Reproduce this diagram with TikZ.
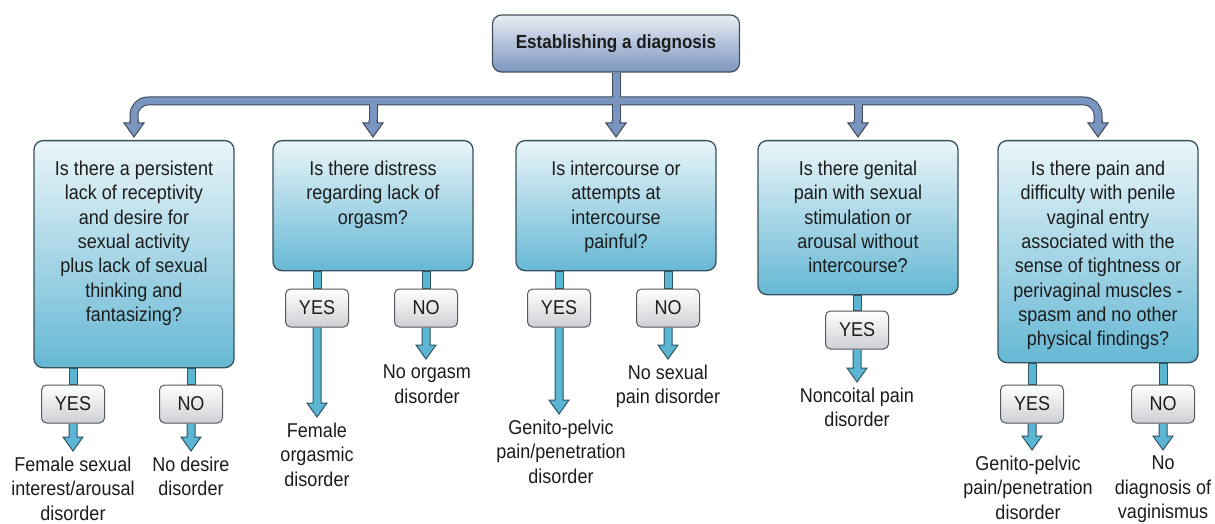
\documentclass[tikz,border=0pt]{standalone}
\usepackage{fontspec}
\setmainfont{Liberation Sans}[FakeStretch=0.9]
\usetikzlibrary{positioning,calc,backgrounds}
\definecolor{ink}{HTML}{1C1C1C}
\definecolor{qtop}{HTML}{EAF5F9}
\definecolor{qbot}{HTML}{66B8D4}
\definecolor{qline}{HTML}{36525E}
\definecolor{ttop}{HTML}{E8EDF5}
\definecolor{tbot}{HTML}{7C96BE}
\definecolor{tline}{HTML}{444D5A}
\definecolor{tree}{HTML}{7A96C0}
\definecolor{treedark}{HTML}{3D4756}
\definecolor{pipe}{HTML}{5CB5D3}
\definecolor{pipedark}{HTML}{2F5564}
\definecolor{ansline}{HTML}{56595E}
\definecolor{ansbot}{HTML}{CDD0D4}
\newcommand{\qfont}{\fontsize{20pt}{24.3pt}\selectfont}
% fat arrow: x and start from #2, tip at the height of #3
\newcommand{\pipearrow}[3]{%
  \filldraw[#1] let \p1=(#2), \p2=(#3) in
    (\x1-4pt,\y1) -- (\x1-4pt,\y2+14pt) -- (\x1-10pt,\y2+14pt) -- (\x1,\y2)
    -- (\x1+10pt,\y2+14pt) -- (\x1+4pt,\y2+14pt) -- (\x1+4pt,\y1);}
% fat stem without head
\newcommand{\pipestem}[3]{%
  \filldraw[#1] let \p1=(#2), \p2=(#3) in
    (\x1-4pt,\y1) rectangle (\x1+4pt,\y2);}
\tikzset{
  headbox/.style={draw=tline, line width=1.2pt, top color=ttop, bottom color=tbot,
                  rounded corners=9pt, minimum width=247pt, minimum height=57pt,
                  text=ink, font=\fontsize{19pt}{22pt}\selectfont\bfseries},
  question/.style={draw=qline, line width=1.3pt, top color=qtop, bottom color=qbot,
                   rounded corners=9pt, minimum width=200pt},
  qtext/.style={align=center, inner sep=0pt, text=ink, font=\qfont},
  answer/.style={draw=ansline, line width=1pt, top color=white, bottom color=ansbot,
                 rounded corners=5pt, minimum width=63pt, minimum height=38pt,
                 text=ink, font=\qfont},
  result/.style={align=center, inner xsep=0pt, inner ysep=6pt, anchor=north,
                 text=ink, font=\qfont},
  treeflow/.style={fill=tree, draw=treedark, line width=1pt},
  pipeflow/.style={fill=pipe, draw=pipedark, line width=1pt},
}
\begin{document}
\begin{tikzpicture}[x=1pt, y=-1pt]
\useasboundingbox (0,0) rectangle (1215,524);

% ---- title ---------------------------------------------------------
\node[headbox] (top) at (616,43.5) {Establishing a diagnosis};
\coordinate (bar) at (616,101);

% ---- questions -----------------------------------------------------
\node[question, minimum height=227pt, anchor=north] (q1) at (134,140) {};
\node[qtext, below=21pt of q1.north] (q1t) {Is there a persistent\\ lack of receptivity\\
      and desire for\\ sexual activity\\ plus lack of sexual\\ thinking and\\ fantasizing?};
\node[question, minimum height=130pt, anchor=north] (q2) at (373,140) {};
\node[qtext, below=21pt of q2.north] (q2t) {Is there distress\\ regarding lack of\\ orgasm?};
\node[question, minimum height=130pt, anchor=north] (q3) at (616,140) {};
\node[qtext, below=21pt of q3.north] (q3t) {Is intercourse or\\ attempts at\\ intercourse\\ painful?};
\node[question, minimum height=154pt, anchor=north] (q4) at (858,140) {};
\node[qtext, below=21pt of q4.north] (q4t) {Is there genital\\ pain with sexual\\
      stimulation or\\ arousal without\\ intercourse?};
\node[question, minimum height=222pt, anchor=north] (q5) at (1098,140) {};
\node[qtext, below=21pt of q5.north] (q5t) {Is there pain and\\ difficulty with penile\\
      vaginal entry\\ associated with the\\ sense of tightness or\\ perivaginal muscles -\\
      spasm and no other\\ physical findings?};

% ---- answers -------------------------------------------------------
\node[answer] (yes1) at (73,404)   {YES};
\node[answer] (no1)  at (191,404)  {NO};
\node[answer] (yes2) at (317,308)  {YES};
\node[answer] (no2)  at (426,308)  {NO};
\node[answer] (yes3) at (559,308)  {YES};
\node[answer] (no3)  at (668,308)  {NO};
\node[answer] (yes4) at (857,330)  {YES};
\node[answer] (yes5) at (1032,404) {YES};
\node[answer] (no5)  at (1163,404) {NO};

% ---- outcomes ------------------------------------------------------
\node[result] (r1y) at (73,451)   {Female sexual\\ interest/arousal\\ disorder};
\node[result] (r1n) at (191,451)  {No desire\\ disorder};
\node[result] (r2y) at (317,417)  {Female\\ orgasmic\\ disorder};
\node[result] (r2n) at (427,359)  {No orgasm\\ disorder};
\node[result] (r3y) at (561,414)  {Genito-pelvic\\ pain/penetration\\ disorder};
\node[result] (r3n) at (668,359)  {No sexual\\ pain disorder};
\node[result] (r4y) at (857,382)  {Noncoital pain\\ disorder};
\node[result] (r5y) at (1028,450) {Genito-pelvic\\ pain/penetration\\ disorder};
\node[result] (r5n) at (1163,450) {No\\ diagnosis of\\ vaginismus};

\begin{scope}[on background layer]
  \fill[white] (0,0) rectangle (1215,524);
  % tree from the title: outline pass, then fill pass
  \foreach \w/\c in {9pt/treedark,7pt/tree}{
    \draw[line width=\w, draw=\c] (top.south) -- ($(q3.north)+(0,-14)$);
    \draw[line width=\w, draw=\c, rounded corners=14pt] ($(q1.north)+(0,-14)$)
         -- (q1.north |- bar) -- (q5.north |- bar) -- ($(q5.north)+(0,-14)$);
    \draw[line width=\w, draw=\c] (q2.north |- bar) -- ($(q2.north)+(0,-14)$);
    \draw[line width=\w, draw=\c] (q4.north |- bar) -- ($(q4.north)+(0,-14)$);
  }
  \foreach \q in {q1,q2,q3,q4,q5}
    \pipearrow{treeflow}{$(\q.north)+(0,-20)$}{$(\q.north)+(0,-3)$};
  % answers to outcomes
  \foreach \a/\q/\r in {yes1/q1/r1y, no1/q1/r1n, yes2/q2/r2y, no2/q2/r2n,
                        yes3/q3/r3y, no3/q3/r3n, yes4/q4/r4y, yes5/q5/r5y, no5/q5/r5n}{
    \pipestem{pipeflow}{\a.north}{\q.south}
    \pipearrow{pipeflow}{\a.south}{\r.north}
  }
\end{scope}
\end{tikzpicture}
\end{document}
